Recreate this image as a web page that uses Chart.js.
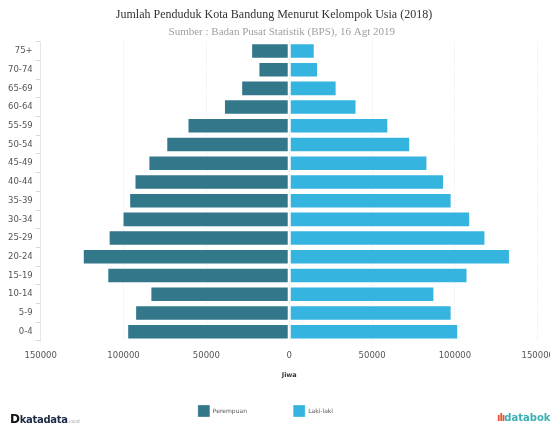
<!DOCTYPE html>
<html>
<head>
<meta charset="utf-8">
<script src="https://cdn.jsdelivr.net/npm/chart.js@4/dist/chart.umd.min.js"></script>
<style>
    html, body { margin: 0; padding: 0; background: #fff; overflow: hidden; }
    #wrap { position: relative; width: 564px; height: 429px; }
    .logo-left { position: absolute; left: 10px; top: 412px; font-family: "DejaVu Sans", sans-serif; font-weight: bold; font-size: 10px; color: #1c2a45; letter-spacing: -0.3px; }
    .logo-left .d { font-size: 12px; color: #111; }
    .logo-left .dom { font-size: 5px; color: #999; font-weight: normal; }
    .logo-right { position: absolute; left: 497px; top: 412px; font-family: "DejaVu Sans", sans-serif; font-weight: bold; font-size: 10px; color: #3bb0b5; }
    .logo-right .icon { color: #e8502e; font-size: 10px; letter-spacing: -1px; }
</style>
</head>
<body>
<div id="wrap">
    <canvas id="pyramid"></canvas>
    <div class="logo-left"><span class="d">D</span>katadata<span class="dom">.co.id</span></div>
    <div class="logo-right"><span class="icon">ılı</span>databoks</div>
</div>
<script>
const ageGroups = ["75+", "70-74", "65-69", "60-64", "55-59", "50-54", "45-49", "40-44",
    "35-39", "30-34", "25-29", "20-24", "15-19", "10-14", "5-9", "0-4"];
const perempuan = [23000, 18600, 29000, 39400, 61400, 74200, 85000, 93400,
    96600, 100600, 109000, 124600, 109800, 83800, 93000, 97800];
const lakiLaki = [15400, 17400, 28600, 40600, 59800, 73000, 83400, 93400,
    98000, 109200, 118400, 133200, 107600, 87600, 98000, 102000];
const xTicks = [-150000, -100000, -50000, 0, 50000, 100000, 150000];

// trailing spaces nudge centred texts to where the original has them
const legendTail = ["                   ", "                    "];
const titleTail = "       ";
const subtitleTail = "  ";

const ctx = document.getElementById("pyramid").getContext("2d");
new Chart(ctx, {
    type: "bar",
    data: {
        labels: ageGroups,
        datasets: [
            {
                label: "Perempuan",
                data: perempuan.map(v => -v),
                backgroundColor: "#33778a",
                borderColor: "rgba(255,255,255,0.3)",
                borderWidth: 1,
                borderSkipped: false
            },
            {
                label: "Laki-laki",
                data: lakiLaki,
                backgroundColor: "#35b4e0",
                borderColor: "rgba(255,255,255,0.3)",
                borderWidth: 1,
                borderSkipped: false
            }
        ]
    },
    options: {
        indexAxis: "y",
        responsive: true,
        maintainAspectRatio: false,
        animation: false,
        categoryPercentage: 1,
        barPercentage: 0.83,
        layout: { padding: { left: 5, right: 0, bottom: 2 } },
        plugins: {
            title: {
                display: true,
                text: "Jumlah Penduduk Kota Bandung Menurut Kelompok Usia (2018)" + titleTail,
                font: { family: "Liberation Serif", size: 12, weight: "normal" },
                color: "#333",
                padding: { top: 8, bottom: 0 }
            },
            subtitle: {
                display: true,
                text: "Sumber : Badan Pusat Statistik (BPS), 16 Agt 2019" + subtitleTail,
                font: { family: "Liberation Serif", size: 11 },
                color: "#a0a0a0",
                padding: { top: 3, bottom: 3 }
            },
            legend: {
                position: "bottom",
                labels: {
                    boxWidth: 12,
                    boxHeight: 12,
                    padding: 10,
                    color: "#555",
                    font: { family: "DejaVu Sans", size: 6 },
                    generateLabels: chart => {
                        const items = Chart.defaults.plugins.legend.labels.generateLabels(chart);
                        items.forEach((it, i) => { it.text += legendTail[i]; });
                        return items;
                    }
                }
            },
            tooltip: { enabled: false }
        },
        scales: {
            x: {
                stacked: true,
                min: -150000,
                max: 150000,
                afterBuildTicks: axis => { axis.ticks = xTicks.map(v => ({ value: v })); },
                ticks: {
                    callback: v => Math.abs(v),
                    color: "#555",
                    font: { family: "DejaVu Sans", size: 8.5 },
                    padding: 10,
                    maxRotation: 0
                },
                grid: { color: "#e2e2e2", drawTicks: false },
                border: { display: false, dash: [1, 2] },
                title: {
                    display: true,
                    text: "Jiwa",
                    color: "#333",
                    font: { family: "DejaVu Sans", size: 6.5, weight: "bold" },
                    padding: { top: 0, bottom: 16 }
                }
            },
            y: {
                stacked: true,
                ticks: {
                    color: "#555",
                    font: { family: "DejaVu Sans", size: 8.5 },
                    padding: 3
                },
                grid: { drawOnChartArea: false, color: "#d8d8d8", tickLength: 5 },
                border: { display: true, color: "#e6e6e6" }
            }
        }
    }
});
</script>
</body>
</html>
